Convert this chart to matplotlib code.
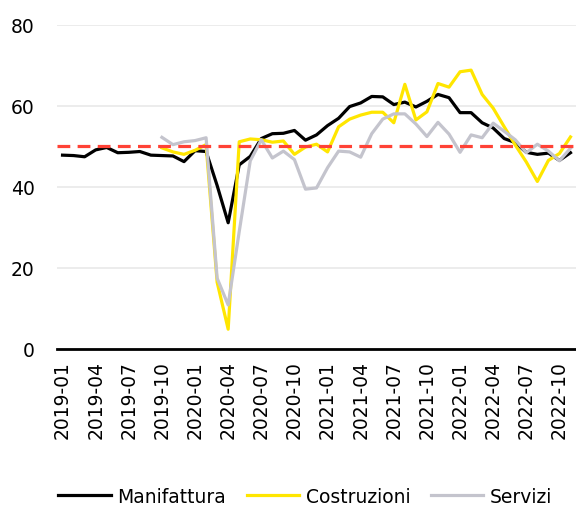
import numpy as np
import matplotlib
matplotlib.use("Agg")
import matplotlib.pyplot as plt

#--------------------------------------------------
# data: monthly PMI, 2019-01 .. 2022-11
months = ["{}-{:02d}".format(y, m) for y in range(2019, 2023) for m in range(1, 13)][:47]

manifattura = [
    47.8, 47.7, 47.4, 49.1, 49.7, 48.4, 48.5, 48.7, 47.8, 47.7, 47.6, 46.2,
    48.9, 48.7, 40.3, 31.1, 45.4, 47.5, 51.9, 53.1, 53.2, 53.9, 51.5, 52.8,
    55.1, 56.9, 59.8, 60.7, 62.3, 62.2, 60.3, 60.9, 59.7, 61.1, 62.8, 62.0,
    58.3, 58.3, 55.8, 54.5, 51.9, 50.9, 48.5, 48.0, 48.3, 46.5, 48.4,
]

nan = np.nan
costruzioni = [
    nan, nan, nan, nan, nan, nan, nan, nan, nan, 49.6, 48.6, 48.0,
    49.0, 50.4, 16.4, 4.8, 51.1, 51.8, 51.6, 51.0, 51.3, 48.0, 49.8, 50.5,
    48.6, 54.8, 56.7, 57.7, 58.4, 58.4, 55.8, 65.3, 56.5, 58.5, 65.5, 64.6,
    68.4, 68.8, 62.8, 59.4, 54.8, 50.3, 46.1, 41.3, 46.5, 48.2, 52.3,
]

servizi = [
    nan, nan, nan, nan, nan, nan, nan, nan, nan, 52.2, 50.4, 51.1,
    51.4, 52.1, 17.4, 10.8, 28.9, 46.4, 51.6, 47.1, 48.8, 46.7, 39.4, 39.7,
    44.7, 48.8, 48.6, 47.3, 53.1, 56.7, 58.0, 58.0, 55.5, 52.4, 55.9, 53.0,
    48.5, 52.8, 52.1, 55.7, 53.7, 51.6, 48.4, 50.5, 48.8, 46.4, 49.5,
]

soglia = 50
yticks = [0, 20, 40, 60, 80]

#--------------------------------------------------
plt.rc('font', family='DejaVu Sans', size=13.5)

fig = plt.figure(figsize=(5.76, 5.06), dpi=100)
ax = fig.add_axes([0.099, 0.309, 0.901, 0.640])

xx = np.arange(len(months))

ax.plot(xx, manifattura, color='black',   lw=2.3, label='Manifattura', zorder=3)
ax.plot(xx, costruzioni, color='#FFE600', lw=2.3, label='Costruzioni', zorder=3)
ax.plot(xx, servizi,     color='#C4C4CD', lw=2.3, label='Servizi',     zorder=3)

ax.axhline(soglia, color='#FF4236', lw=2.3, ls=(0, (4.0, 2.3)), zorder=4)

# axes styling
ax.set_xlim(-0.5, len(months) - 0.5)
ax.set_ylim(0, 80)
ax.set_yticks(yticks)
ax.set_xticks(xx[::3])
ax.set_xticklabels(months[::3], rotation=90)

for s in ['top', 'right', 'left']:
    ax.spines[s].set_visible(False)
ax.spines['bottom'].set_linewidth(2.0)
ax.spines['bottom'].set_color('black')

ax.yaxis.grid(True, color='#EBEBEB', lw=1.3)
ax.set_axisbelow(True)
ax.tick_params(axis='both', length=0)
ax.tick_params(axis='y', pad=16)
ax.tick_params(axis='x', pad=8)

leg = fig.legend(loc='lower center', bbox_to_anchor=(0.53, -0.035), ncol=3,
                 frameon=False, handlelength=2.8, columnspacing=1.1,
                 handletextpad=0.35)

fig.savefig('out.png', dpi=100)
